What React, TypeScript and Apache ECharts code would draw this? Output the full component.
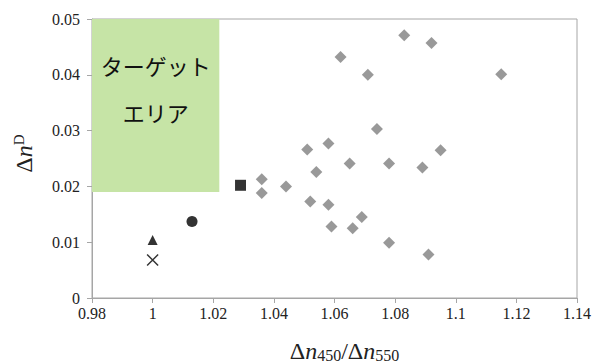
import React, { useEffect, useRef } from "react";
import * as echarts from "echarts";

const diamondX = [1.083, 1.092, 1.062, 1.071, 1.115, 1.074, 1.051, 1.058, 1.095, 1.054, 1.065, 1.078, 1.089, 1.036, 1.036, 1.044, 1.052, 1.058, 1.059, 1.066, 1.069, 1.078, 1.091];
const diamondY = [0.0471, 0.0457, 0.0432, 0.0400, 0.0401, 0.0303, 0.0266, 0.0277, 0.0265, 0.0226, 0.0241, 0.0241, 0.0234, 0.0213, 0.0188, 0.0200, 0.0173, 0.0167, 0.0128, 0.0125, 0.0145, 0.0099, 0.0078];
const squarePt = [1.029, 0.0202];
const circlePt = [1.013, 0.0137];
const trianglePt = [1.0, 0.0104];
const crossPt = [1.0, 0.0068];
const targetArea = [[0.98, 0.019], [1.022, 0.05]];
const targetLabel = "ターゲット\nエリア";
const xTicks = { min: 0.98, max: 1.14, interval: 0.02 };
const yTicks = { min: 0, max: 0.05, interval: 0.01 };

const fmt = (v: number) => "{t|" + String(parseFloat(v.toFixed(3))) + "}";

export default function App() {
  const ref = useRef<HTMLDivElement>(null);
  useEffect(() => {
    const chart = echarts.init(ref.current!, null, { renderer: "svg" });
    const serif = "Liberation Serif, Times New Roman, serif";
    const axisColor = "#a6a6a6";
    const textColor = "#222";
    const tickRich = { t: { fontFamily: serif, fontSize: 16, color: textColor } };
    chart.setOption({
      animation: false,
      grid: {
        left: 92,
        top: 19,
        right: 15,
        bottom: 65,
        show: true,
        borderColor: axisColor,
        borderWidth: 1,
        containLabel: false,
        outerBoundsMode: "none",
      },
      xAxis: {
        type: "value",
        min: xTicks.min,
        max: xTicks.max,
        interval: xTicks.interval,
        axisLine: { show: true, lineStyle: { color: axisColor } },
        axisTick: { show: true, length: 5, lineStyle: { color: axisColor } },
        splitLine: { show: false },
        axisLabel: {
          fontFamily: serif,
          fontSize: 16,
          color: textColor,
          margin: 7,
          formatter: (v: number) => fmt(v),
          rich: tickRich,
        },
        name: "{a|Δ}{i|n}{s|450}{a|/Δ}{i|n}{s|550}",
        nameLocation: "middle",
        nameGap: 40,
        nameTextStyle: {
          padding: [0, 0, 0, 20],
          rich: {
            a: { fontFamily: serif, fontSize: 24, color: textColor },
            i: { fontFamily: serif, fontSize: 24, fontStyle: "italic", color: textColor },
            s: { fontFamily: serif, fontSize: 16, color: textColor, padding: [9, 0, 0, 0] },
          },
        },
      },
      yAxis: {
        type: "value",
        min: yTicks.min,
        max: yTicks.max,
        interval: yTicks.interval,
        axisLine: { show: true, lineStyle: { color: axisColor } },
        axisTick: { show: true, length: 5, lineStyle: { color: axisColor } },
        splitLine: { show: false },
        axisLabel: {
          fontFamily: serif,
          fontSize: 16,
          color: textColor,
          margin: 12,
          formatter: (v: number) => fmt(v),
          rich: tickRich,
        },
        name: "{a|Δ}{i|n}{p|D}",
        nameLocation: "middle",
        nameRotate: 90,
        nameGap: 56,
        nameTextStyle: {
          padding: [0, 0, 0, 10],
          rich: {
            a: { fontFamily: serif, fontSize: 24, color: textColor },
            i: { fontFamily: serif, fontSize: 24, fontStyle: "italic", color: textColor },
            p: { fontFamily: serif, fontSize: 15, color: textColor, padding: [0, 0, 10, 0] },
          },
        },
      },
      series: [
        {
          type: "scatter",
          data: [],
          markArea: {
            silent: true,
            itemStyle: { color: "#c6e4a6" },
            label: {
              show: true,
              position: "insideTop",
              distance: 22,
              color: "#111",
              fontSize: 22,
              lineHeight: 47,
              fontFamily: "Noto Sans CJK JP",
              align: "center",
            },
            data: [[
              { name: targetLabel, coord: targetArea[0] },
              { coord: targetArea[1] },
            ]],
          },
        },
        {
          type: "scatter",
          symbol: "diamond",
          symbolSize: 12,
          itemStyle: { color: "#7f7f7f" },
          data: diamondX.map((x, i) => [x, diamondY[i]]),
        },
        {
          type: "scatter",
          symbol: "rect",
          symbolSize: 11,
          itemStyle: { color: "#000" },
          data: [squarePt],
        },
        {
          type: "scatter",
          symbol: "circle",
          symbolSize: 11,
          itemStyle: { color: "#000" },
          data: [circlePt],
        },
        {
          type: "scatter",
          symbol: "triangle",
          symbolSize: 10,
          itemStyle: { color: "#000" },
          data: [trianglePt],
        },
        {
          type: "scatter",
          symbol: "path://M0,0L10,10M10,0L0,10",
          symbolSize: 11,
          itemStyle: { color: "none", borderColor: "#000", borderWidth: 1.5 },
          data: [crossPt],
        },
      ],
    });
    return () => chart.dispose();
  }, []);
  return <div ref={ref} style={{ width: 592, height: 363, position: "absolute", left: 0, top: 0 }} />;
}
